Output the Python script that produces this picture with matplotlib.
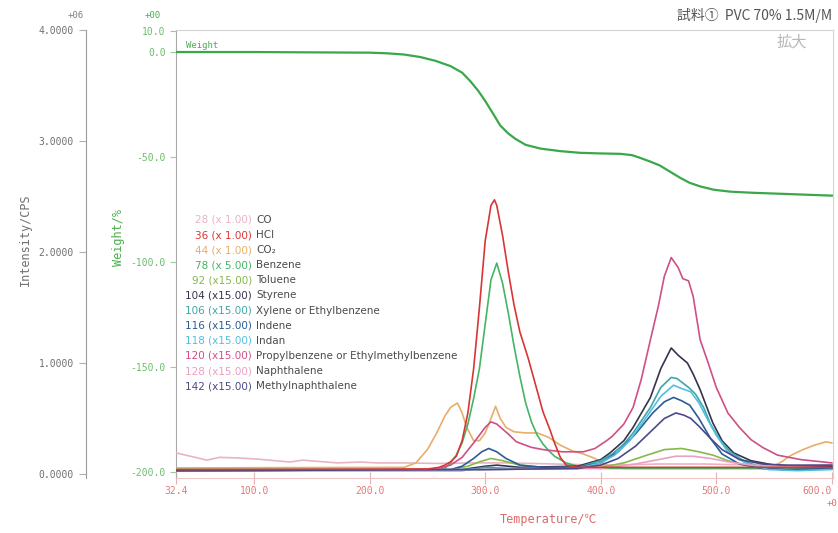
import matplotlib
matplotlib.use("Agg")
import matplotlib.pyplot as plt

# --- weight (TG) curve ---
w_t = [32.4, 100, 200, 215, 230, 244, 257, 270, 280, 287, 294, 300, 307, 313, 320, 326,
       335, 348, 365, 382, 400, 417, 427, 434, 442, 451, 460, 469, 477, 486, 498, 512,
       530, 555, 580, 600]
w_v = [0.0, 0.0, -0.3, -0.6, -1.2, -2.4, -4.2, -6.7, -9.8, -13.8, -18.5, -23.3, -29.5, -35.0,
       -38.8, -41.3, -44.2, -46.0, -47.2, -48.0, -48.3, -48.5, -49.1, -50.4, -52.0, -54.0,
       -57.0, -60.0, -62.3, -64.0, -65.6, -66.5, -67.0, -67.5, -68.0, -68.4]

# --- MS ion curves, intensity in 1e6 CPS ---
co_t = [32.4, 45, 59, 70, 85, 102, 131, 142, 172, 192, 206, 229, 260, 290, 320, 360, 400,
        430, 450, 470, 490, 510, 540, 570, 600]
co_i = [0.19, 0.16, 0.125, 0.15, 0.145, 0.135, 0.108, 0.125, 0.10, 0.108, 0.10, 0.10, 0.095,
        0.10, 0.10, 0.09, 0.08, 0.085, 0.09, 0.09, 0.09, 0.085, 0.08, 0.07, 0.07]

hcl_t = [32.4, 250, 260, 265, 270, 275, 280, 285, 290, 295, 300, 305, 308, 310, 315, 320,
         325, 330, 337, 345, 350, 356, 360, 365, 370, 380, 600]
hcl_i = [0.04, 0.045, 0.06, 0.08, 0.11, 0.16, 0.3, 0.55, 0.95, 1.5, 2.1, 2.42, 2.47, 2.42,
         2.15, 1.82, 1.52, 1.28, 1.05, 0.75, 0.56, 0.4, 0.28, 0.15, 0.08, 0.06, 0.06]

co2_t = [32.4, 230, 240, 250, 258, 265, 270, 276, 280, 284, 290, 295, 300, 305, 309, 313,
         318, 325, 335, 345, 355, 365, 375, 385, 395, 405, 420, 545, 555, 565, 575, 585,
         595, 600]
co2_i = [0.055, 0.06, 0.1, 0.22, 0.37, 0.52, 0.6, 0.64, 0.55, 0.42, 0.3, 0.3, 0.37, 0.5,
         0.61, 0.5, 0.42, 0.38, 0.37, 0.37, 0.33, 0.26, 0.21, 0.18, 0.14, 0.08, 0.05, 0.05,
         0.1, 0.17, 0.22, 0.26, 0.29, 0.28]

benz_t = [32.4, 260, 265, 270, 275, 280, 285, 290, 295, 300, 305, 310, 315, 320, 325, 330,
          335, 340, 345, 350, 355, 360, 370, 380, 400, 600]
benz_i = [0.04, 0.04, 0.05, 0.1, 0.17, 0.28, 0.45, 0.68, 0.95, 1.35, 1.75, 1.9, 1.72, 1.45,
          1.15, 0.88, 0.64, 0.47, 0.35, 0.27, 0.21, 0.16, 0.1, 0.07, 0.05, 0.05]

tol_t = [32.4, 270, 285, 295, 305, 315, 330, 350, 400, 420, 440, 455, 470, 485, 497, 510,
         525, 540, 600]
tol_i = [0.04, 0.04, 0.07, 0.11, 0.14, 0.12, 0.08, 0.06, 0.06, 0.1, 0.17, 0.22, 0.23, 0.2,
         0.17, 0.12, 0.08, 0.06, 0.05]

sty_t = [32.4, 280, 300, 310, 330, 380, 400, 408, 420, 428, 443, 452, 461, 467, 475, 480,
         486, 497, 505, 515, 530, 550, 570, 600]
sty_i = [0.03, 0.04, 0.07, 0.08, 0.06, 0.07, 0.13, 0.19, 0.3, 0.42, 0.69, 0.95, 1.135, 1.07,
         1.0, 0.9, 0.76, 0.46, 0.3, 0.19, 0.12, 0.08, 0.07, 0.07]

xyl_t = [32.4, 280, 300, 320, 380, 400, 410, 420, 428, 443, 452, 461, 466, 476, 482, 489,
         495, 503, 512, 525, 540, 560, 580, 600]
xyl_i = [0.03, 0.03, 0.06, 0.05, 0.06, 0.12, 0.18, 0.27, 0.37, 0.6, 0.78, 0.87, 0.86, 0.78,
         0.72, 0.6, 0.45, 0.31, 0.2, 0.11, 0.06, 0.04, 0.04, 0.05]

ind_t = [32.4, 270, 280, 290, 297, 303, 310, 318, 330, 350, 380, 400, 415, 430, 445, 455,
         463, 470, 477, 485, 495, 505, 520, 540, 560, 600]
ind_i = [0.03, 0.04, 0.07, 0.14, 0.2, 0.23, 0.2, 0.14, 0.08, 0.06, 0.06, 0.1, 0.2, 0.36,
         0.55, 0.65, 0.69, 0.66, 0.62, 0.5, 0.32, 0.18, 0.09, 0.05, 0.04, 0.05]

indan_t = [32.4, 300, 380, 400, 412, 425, 440, 452, 463, 470, 478, 485, 492, 500, 510, 525,
           545, 570, 600]
indan_i = [0.03, 0.04, 0.05, 0.1, 0.17, 0.3, 0.52, 0.7, 0.8, 0.77, 0.74, 0.64, 0.5, 0.35,
           0.2, 0.1, 0.04, 0.03, 0.04]

pro_t = [32.4, 250, 260, 270, 280, 290, 300, 305, 310, 320, 327, 340, 350, 367, 385, 395,
         405, 410, 420, 428, 435, 443, 450, 455, 461, 467, 471, 476, 480, 486, 493, 500,
         510, 520, 530, 540, 553, 573, 600]
pro_i = [0.035, 0.035, 0.05, 0.08, 0.15, 0.28, 0.42, 0.47, 0.45, 0.36, 0.29, 0.24, 0.22,
         0.2, 0.2, 0.23, 0.3, 0.34, 0.45, 0.6, 0.85, 1.21, 1.52, 1.78, 1.95, 1.86, 1.76,
         1.74, 1.6, 1.21, 1.0, 0.78, 0.55, 0.42, 0.31, 0.24, 0.17, 0.13, 0.1]

nap_t = [32.4, 300, 400, 430, 450, 465, 480, 495, 510, 530, 560, 600]
nap_i = [0.035, 0.04, 0.05, 0.09, 0.13, 0.16, 0.16, 0.14, 0.11, 0.08, 0.07, 0.08]

mnap_t = [32.4, 300, 380, 400, 415, 430, 445, 455, 465, 472, 478, 485, 495, 505, 520, 540,
          560, 600]
mnap_i = [0.03, 0.04, 0.05, 0.08, 0.14, 0.25, 0.4, 0.5, 0.55, 0.53, 0.5, 0.43, 0.32, 0.22,
          0.13, 0.09, 0.08, 0.08]

# legend rows: (prefix, name, colour, data)
ions = [
    ("28 (x 1.00)", "CO", "#e8b4c0", co_t, co_i),
    ("36 (x 1.00)", "HCl", "#d93535", hcl_t, hcl_i),
    ("44 (x 1.00)", "CO\u2082", "#e8ad6a", co2_t, co2_i),
    ("78 (x 5.00)", "Benzene", "#45b565", benz_t, benz_i),
    ("92 (x15.00)", "Toluene", "#86b84a", tol_t, tol_i),
    ("104 (x15.00)", "Styrene", "#34344f", sty_t, sty_i),
    ("106 (x15.00)", "Xylene or Ethylbenzene", "#3fa6a8", xyl_t, xyl_i),
    ("116 (x15.00)", "Indene", "#2a5c98", ind_t, ind_i),
    ("118 (x15.00)", "Indan", "#52bfe0", indan_t, indan_i),
    ("120 (x15.00)", "Propylbenzene or Ethylmethylbenzene", "#cf4f86", pro_t, pro_i),
    ("128 (x15.00)", "Naphthalene", "#eaa0c4", nap_t, nap_i),
    ("142 (x15.00)", "Methylnaphthalene", "#4a4a88", mnap_t, mnap_i),
]

W, H = 838, 533
fig = plt.figure(figsize=(W / 100, H / 100), dpi=100)
ax = fig.add_axes([176 / W, 1 - 478 / H, (833 - 176) / W, (478 - 30) / H])

green = "#4cae4c"
pinkred = "#e07b7b"
mono = "DejaVu Sans Mono"

# weight axis
ax.plot(w_t, w_v, color="#3aa84a", lw=1.6, zorder=5)
ax.set_xlim(32.4, 601)
ax.set_ylim(-202.9, 10.5)
ax.set_yticks([10, 0, -50, -100, -150, -200])
ax.set_yticklabels(["10.0", "0.0", "-50.0", "-100.0", "-150.0", "-200.0"],
                   color="#7cc47c", fontsize=7, family=mono)
ax.tick_params(axis="y", colors="#9acc9a", length=4, labelcolor="#6dbd6d")
ax.set_xticks([32.4, 100, 200, 300, 400, 500, 600])
xlabs = ax.set_xticklabels(["32.4", "100.0", "200.0", "300.0", "400.0", "500.0", "600.0"],
                           fontsize=7, family=mono)
xlabs[-1].set_ha("right")
ax.tick_params(axis="x", colors="#eab0b0", direction="inout", length=8,
               labelcolor=pinkred, pad=2)
ax.spines["left"].set_color("#a8a8a8")
ax.spines["bottom"].set_color("#efc4c4")
ax.spines["top"].set_color("#d4d4d4")
ax.spines["right"].set_color("#d4d4d4")

# intensity axis on the far left
ax2 = ax.twinx()
ax2.set_ylim(-0.036, 4.0)
ax2.yaxis.tick_left()
ax2.spines["left"].set_position(("outward", 65))
ax2.spines["left"].set_color("#9a9a9a")
ax2.spines["right"].set_visible(False)
ax2.spines["top"].set_visible(False)
ax2.spines["bottom"].set_visible(False)
ax2.set_yticks([0, 1, 2, 3, 4])
ax2.set_yticklabels(["0.0000", "1.0000", "2.0000", "3.0000", "4.0000"],
                    fontsize=7, family=mono)
ax2.tick_params(axis="y", colors="#b0b0b0", length=5, labelcolor="#707070")

for k, (pre, name, col, t, inten) in enumerate(ions):
    z = 4 if name == "HCl" else 3
    ax2.plot(t, inten, color=col, lw=1.2, zorder=z)

# legend as coloured text rows
for k, (pre, name, col, t, inten) in enumerate(ions):
    y = 1 - (220 + k * 15.1) / H
    fig.text(252 / W, y, pre, color=col, fontsize=7.5, ha="right", va="center")
    fig.text(256 / W, y, name, color="#4a4a4a", fontsize=7.5, ha="left", va="center")

# labels and annotations
fig.text(25 / W, 1 - 240 / H, "Intensity/CPS", rotation=90, color="#707070",
         fontsize=8.5, family=mono, ha="center", va="center")
fig.text(118 / W, 1 - 238 / H, "Weight/%", rotation=90, color=green,
         fontsize=8.5, family=mono, ha="center", va="center")
fig.text(548 / W, 1 - 520 / H, "Temperature/\u2103", color="#d96b6b",
         fontsize=8.5, family=[mono, "Noto Sans CJK JP"], ha="center", va="center")
fig.text(76 / W, 1 - 15 / H, "+06", color="#808080", fontsize=6.5, family=mono,
         ha="center", va="center")
fig.text(153 / W, 1 - 15 / H, "+00", color=green, fontsize=6.5, family=mono,
         ha="center", va="center")
fig.text(837 / W, 1 - 503 / H, "+0", color="#d96b6b", fontsize=6.5, family=mono,
         ha="right", va="center")
fig.text(186 / W, 1 - 46 / H, "Weight", color=green, fontsize=6.5, family=mono,
         ha="left", va="center")
fig.text(832 / W, 1 - 15 / H, "試料①  PVC 70% 1.5M/M", color="#555555", fontsize=10,
         family=["Noto Sans CJK JP", "DejaVu Sans"], ha="right", va="center")
fig.text(792 / W, 1 - 42 / H, "拡大", color="#b8b8b8", fontsize=11,
         family=["Noto Sans CJK JP", "DejaVu Sans"], ha="center", va="center")

fig.savefig("out.png", dpi=100, facecolor="white")
